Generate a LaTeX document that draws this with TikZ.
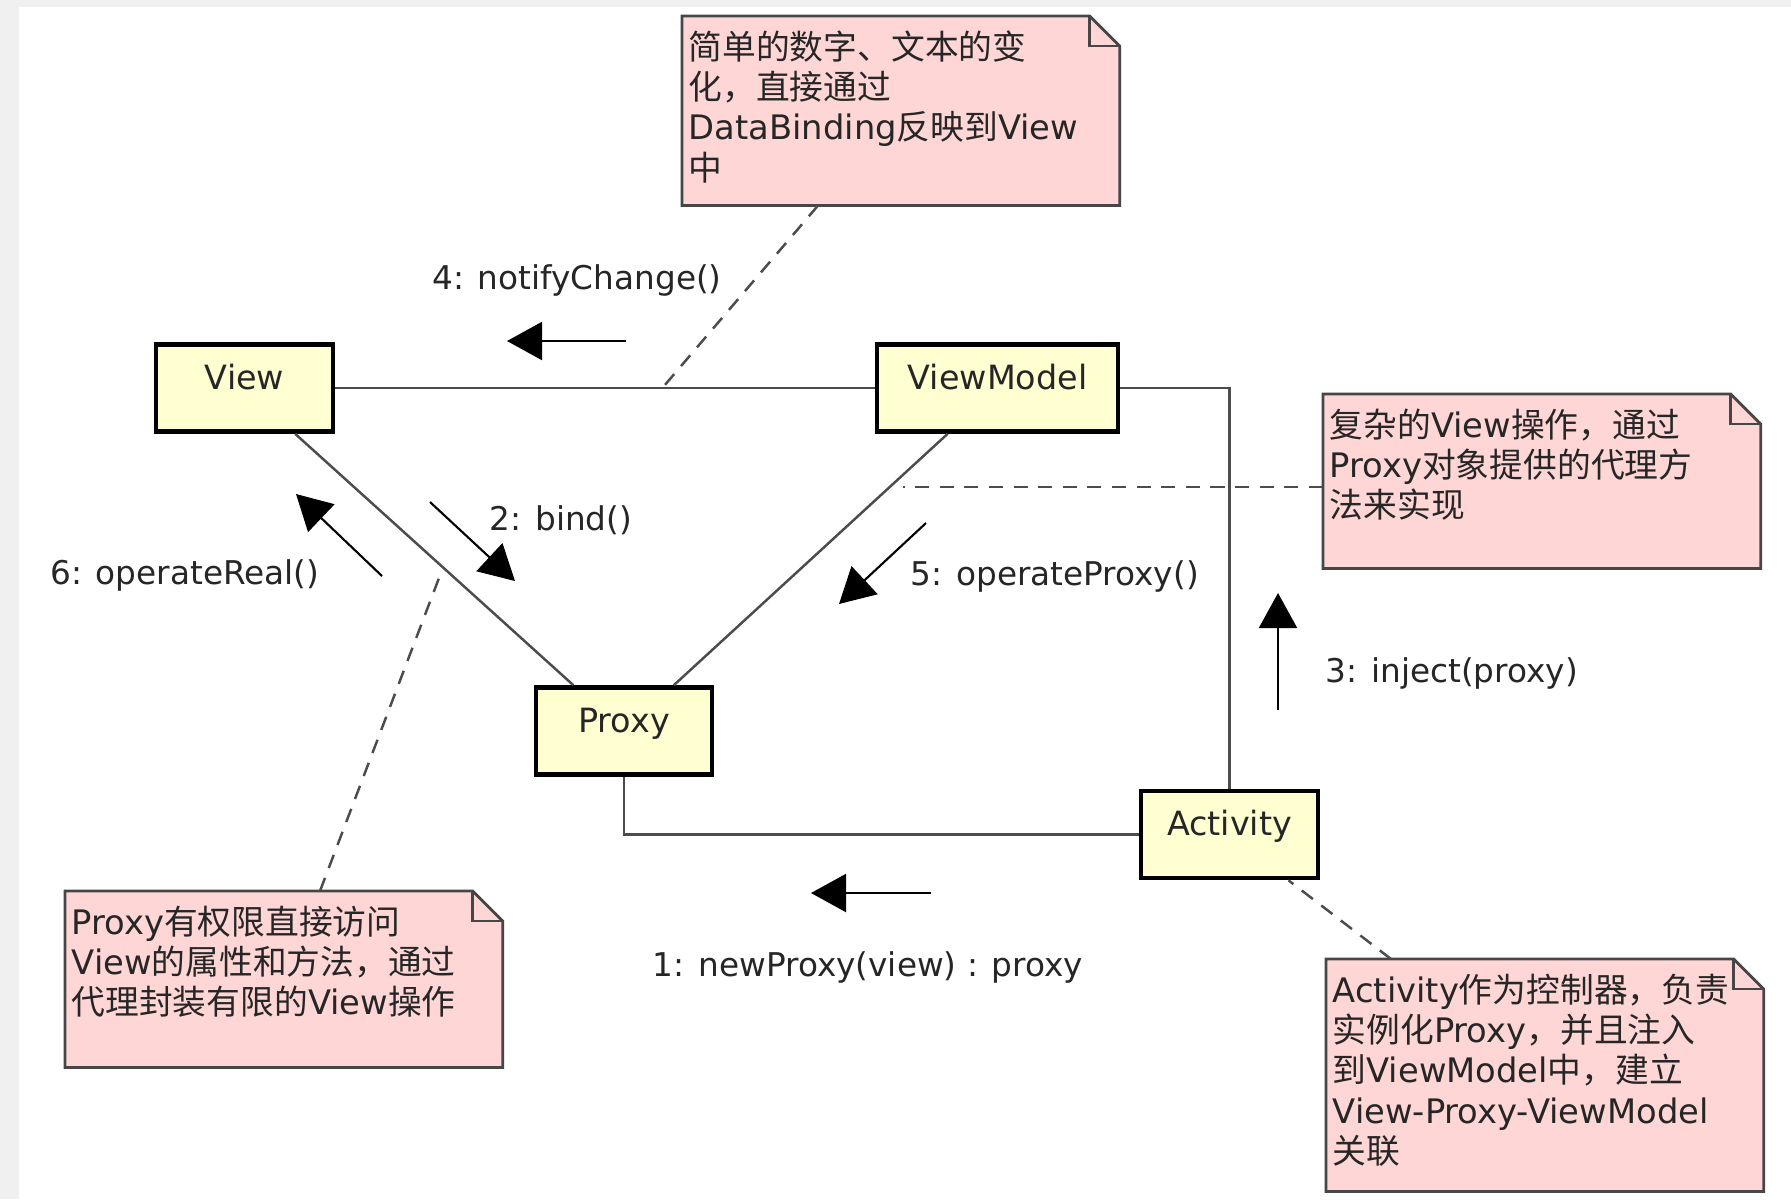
\documentclass[tikz,border=0pt]{standalone}
\usepackage{fontspec}
\setmainfont{DejaVu Sans}
\newfontfamily\hanfont{Noto Sans CJK SC}
\newcommand\cn[1]{{\hanfont #1}}
\usetikzlibrary{calc,arrows.meta}
\pgfdeclarelayer{background}
\pgfsetlayers{background,main}
\definecolor{clsfill}{RGB}{255,255,210}
\definecolor{notefill}{RGB}{255,214,214}
\definecolor{noteline}{RGB}{70,70,70}
\definecolor{framegray}{RGB}{240,240,240}
\tikzset{
  cls/.style={draw=black, line width=1.3pt, fill=clsfill, minimum height=0.87cm,
    text height=0.30cm, text depth=0.28cm, font=\fontsize{9.5}{11}\selectfont, text=black!85},
  note/.style={anchor=north west, inner xsep=0.06cm, inner ysep=0.13cm, text width=4.24cm,
    align=left, text height=0.30cm, font=\fontsize{9.6}{11.4}\selectfont, text=black!85},
  link/.style={line width=0.7pt, draw=black!70},
  noteline/.style={line width=0.7pt, draw=black!70, dash pattern=on 4pt off 3pt},
  msg/.style={line width=0.6pt, draw=black, -{Triangle[length=0.35cm,width=0.38cm]}},
  msglabel/.style={font=\fontsize{9.3}{11}\selectfont, text=black!85, inner sep=0pt},
}
\newcommand\notebg[1]{%
  \begin{pgfonlayer}{background}
    \filldraw[fill=notefill, draw=noteline, line width=0.8pt]
      (#1.south west) -- (#1.north west) -- ([xshift=-0.3cm]#1.north east)
      -- ([yshift=-0.3cm]#1.north east) -- (#1.south east) -- cycle;
    \draw[draw=noteline, line width=0.8pt] ([xshift=-0.3cm]#1.north east) |- ([yshift=-0.3cm]#1.north east);
  \end{pgfonlayer}}

\begin{document}
\begin{tikzpicture}[x=0.01cm, y=-0.01cm]
  \useasboundingbox (0,0) rectangle (1791,1199);
  \begin{pgfonlayer}{background}
    \fill[framegray] (0,0) rectangle (1791,1199);
    \fill[white] (19,7) rectangle (1791,1199);
  \end{pgfonlayer}

  % classes
  \node[cls, minimum width=1.77cm] (View) at (244.5,388) {View};
  \node[cls, minimum width=2.41cm] (ViewModel) at (997.5,388) {ViewModel};
  \node[cls, minimum width=1.76cm] (Proxy) at (624,731) {Proxy};
  \node[cls, minimum width=1.77cm] (Activity) at (1229.5,834.5) {Activity};

  % notes
  \node[note, text depth=1.32cm] (nTop) at (682,16)
    {\cn{简单的数字、文本的变}\\\cn{化，直接通过}\\DataBinding\cn{反映到}View\\\cn{中}};
  \node[note, text depth=1.17cm] (nRight) at (1323,394)
    {\cn{复杂的}View\cn{操作，通过}\\Proxy\cn{对象提供的代理方}\\\cn{法来实现}};
  \node[note, text depth=1.19cm] (nLeft) at (65,891)
    {Proxy\cn{有权限直接访问}\\View\cn{的属性和方法，通过}\\\cn{代理封装有限的}View\cn{操作}};
  \node[note, text depth=1.75cm] (nAct) at (1326,959)
    {Activity\cn{作为控制器，负责}\\\cn{实例化}Proxy\cn{，并且注入}\\\cn{到}ViewModel\cn{中，建立}\\View-Proxy-ViewModel\\\cn{关联}};
  \notebg{nTop}
  \notebg{nRight}
  \notebg{nLeft}
  \notebg{nAct}

  % links
  \draw[link] (View) -- (ViewModel);
  \draw[link] (View) -- (Proxy);
  \draw[link] (ViewModel) -- (Proxy);
  \draw[link] (ViewModel.east) -| (Activity.north);
  \draw[link] (Proxy.south) |- (Activity.west);

  % note anchors
  \coordinate (dTop) at (664,386);
  \coordinate (dRight) at (903,487);
  \coordinate (dLeft) at (439,578);
  \draw[noteline] ($(nTop.south west)+(136,0)$) -- (dTop);
  \draw[noteline] ($(nRight.north west)+(0,93)$) -- (dRight);
  \draw[noteline] ($(nLeft.north west)+(255,0)$) -- (dLeft);
  \draw[noteline] ($(nAct.north west)+(65,0)$) -- ($(Activity.south)+(59,0)$);

  % messages
  \coordinate (m1a) at (931,893);  \coordinate (m1b) at (811,893);
  \coordinate (m2a) at (430,502);  \coordinate (m2b) at (515,581);
  \coordinate (m3a) at (1278,710); \coordinate (m3b) at (1278,593);
  \coordinate (m4a) at (626,341);  \coordinate (m4b) at (507,341);
  \coordinate (m5a) at (926,523);  \coordinate (m5b) at (839,604);
  \coordinate (m6a) at (382,576);  \coordinate (m6b) at (296,494);
  \draw[msg] (m1a) -- (m1b);
  \draw[msg] (m2a) -- (m2b);
  \draw[msg] (m3a) -- (m3b);
  \draw[msg] (m4a) -- (m4b);
  \draw[msg] (m5a) -- (m5b);
  \draw[msg] (m6a) -- (m6b);
  \node[msglabel] (l1) at (868,967) {1: newProxy(view) : proxy};
  \node[msglabel, anchor=west] (l2) at (489,520) {2: bind()};
  \node[msglabel, anchor=west] (l3) at (1325,673) {3: inject(proxy)};
  \node[msglabel] (l4) at (577,280) {4: notifyChange()};
  \node[msglabel, anchor=west] (l5) at (910,576) {5: operateProxy()};
  \node[msglabel, anchor=east] (l6) at (320,575) {6: operateReal()};
\end{tikzpicture}
\end{document}
